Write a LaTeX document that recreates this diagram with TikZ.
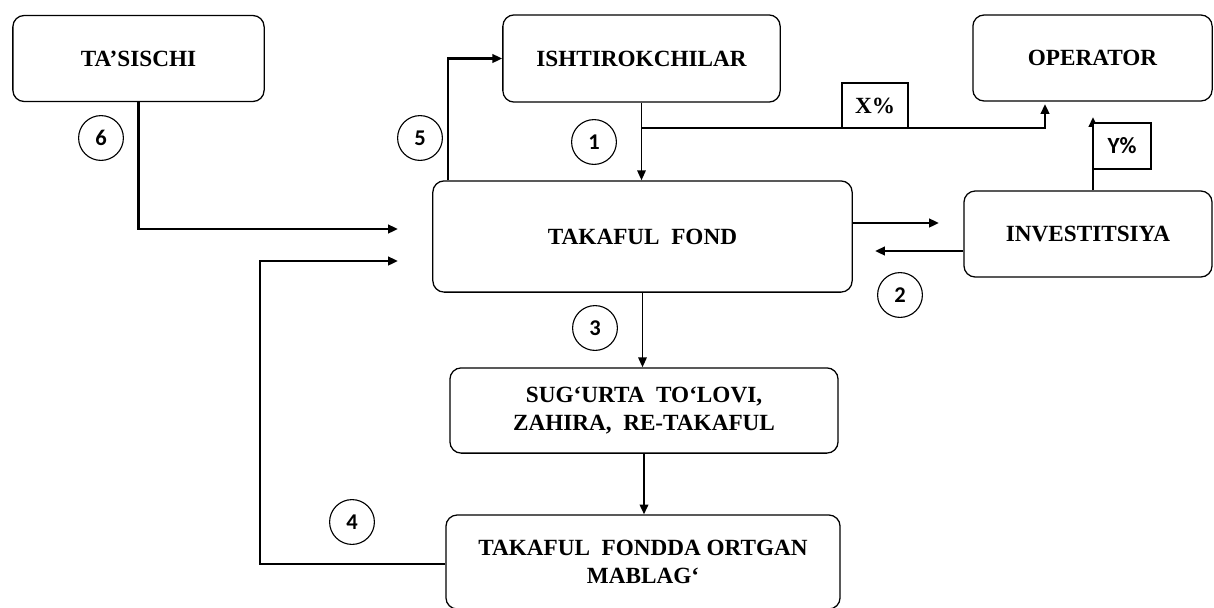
\documentclass[tikz,border=0pt]{standalone}
\usepackage{fontspec}
\setmainfont{Liberation Serif}
\newfontfamily\calfont{Carlito}
\usetikzlibrary{arrows.meta,positioning,calc}

\begin{document}
\begin{tikzpicture}[x=0.025cm, y=-0.025cm,
  >={Triangle[length=7pt,width=6pt]},
  blok/.style={draw, line width=0.9pt, rounded corners=8pt, inner sep=0pt, align=center,
    font=\bfseries\fontsize{16.5}{20.5}\selectfont},
  num/.style={draw, circle, line width=0.8pt, minimum size=1.12cm, inner sep=0pt,
    font=\calfont\bfseries\fontsize{16}{16}\selectfont},
  pct/.style={draw, fill=white, line width=0.9pt, inner sep=0pt},
  arr/.style={line width=2pt, ->},
  thinarr/.style={line width=1.2pt, ->}]
\useasboundingbox (0,0) rectangle (1214,607);
\node[blok, minimum width=6.28cm,  minimum height=2.15cm] (tasischi) at (138.5,58.5) {TA’SISCHI};
\node[blok, minimum width=6.93cm,  minimum height=2.18cm] (ishtirok) at (641.5,58.5) {ISHTIROKCHILAR};
\node[blok, minimum width=5.98cm,  minimum height=2.15cm] (operator) at (1092.5,58) {OPERATOR};
\node[blok, minimum width=10.48cm, minimum height=2.78cm] (fond)     at (642.5,236.5) {TAKAFUL~ FOND};
\node[blok, minimum width=6.2cm,   minimum height=2.15cm] (invest)   at (1088,234) {INVESTITSIYA};
\node[blok, minimum width=9.7cm,   minimum height=2.13cm] (sugurta)  at (644,410.5) {SUG‘URTA~ TO‘LOVI,\\ZAHIRA,~ RE-TAKAFUL};
\node[blok, minimum width=9.85cm,  minimum height=2.35cm] (ortgan)   at (643,562) {TAKAFUL~ FONDDA ORTGAN\\MABLAG‘};
\coordinate (xsplit) at (642,128);
\coordinate (xend)   at (1045,104);
\coordinate (yend)   at (1093,117);
\coordinate (f2i)    at (939,223);
\coordinate (i2f)    at (875,251);
\coordinate (in6)    at (398,229);
\coordinate (back4)  at (260,261);
\coordinate (in4)    at (398,261);
\coordinate (up5)    at (448,181);
\draw[thinarr] (ishtirok.south) -- (ishtirok.south |- fond.north);
\draw[arr] (xsplit) -| (xend);
\draw[arr] (invest.north -| yend) -- (yend);
\draw[arr] (fond.east |- f2i) -- (f2i);
\draw[arr] (invest.west |- i2f) -- (i2f);
\draw[thinarr] (fond.south) -- (fond.south |- sugurta.north);
\draw[line width=1.6pt, ->] (sugurta.south) -- (sugurta.south |- ortgan.north);
\draw[arr] (tasischi.south) |- (in6);
\draw[arr] (ortgan.west |- 0,564) -| (back4) -- (in4);
\draw[arr] (fond.north -| up5) |- (ishtirok.west);
\node[pct, minimum width=1.65cm, minimum height=1.12cm, font=\bfseries\fontsize{16.5}{18}\selectfont] (xpct) at (875,105.5) {X\%};
\node[pct, minimum width=1.45cm, minimum height=1.15cm, font=\calfont\bfseries\fontsize{16.5}{18}\selectfont] (ypct) at (1122,146) {Y\%};
\node[num] (n1) at (594,142) {1};
\node[num] (n2) at (900,295) {2};
\node[num] (n3) at (595,328) {3};
\node[num] (n4) at (352,522) {4};
\node[num] (n5) at (420,138) {5};
\node[num] (n6) at (101,138) {6};
\end{tikzpicture}
\end{document}
